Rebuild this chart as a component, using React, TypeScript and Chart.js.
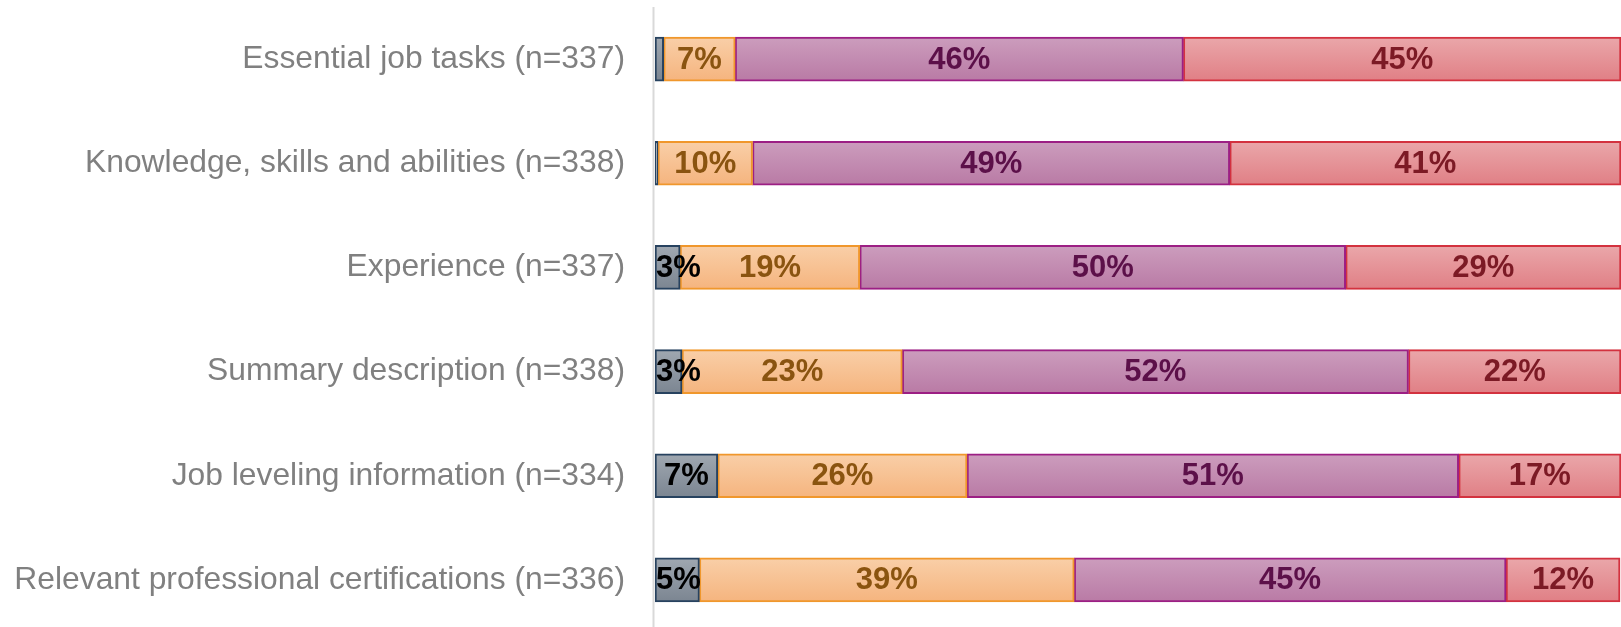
import React, { useEffect, useRef } from "react";
import { Chart, registerables } from "chart.js";

Chart.register(...registerables);

const categories = [
  "Essential job tasks (n=337)",
  "Knowledge, skills and abilities (n=338)",
  "Experience (n=337)",
  "Summary description (n=338)",
  "Job leveling information (n=334)",
  "Relevant professional certifications (n=336)",
];

const seriesNames = ["Not important", "Somewhat important", "Important", "Very important"];
const grayValues = [0.9, 0.3, 2.6, 2.8, 6.5, 4.6];
const orangeValues = [7.4, 9.8, 18.6, 22.8, 25.8, 38.8];
const purpleValues = [46.4, 49.4, 50.3, 52.4, 50.9, 44.7];
const redValues = [45.3, 40.5, 28.5, 22.0, 16.8, 11.8];

const fillTop = ["#a0a8b1", "#f9cfa8", "#cc9dbd", "#eaa7aa"];
const fillBottom = ["#7b8591", "#f5b47e", "#b97aa5", "#e07f85"];
const borderColors = ["#27425f", "#f0972c", "#9c1f84", "#d3323f"];
const labelColors = ["#000000", "#8a5410", "#5c1049", "#7c1a25"];

const FONT = "'Liberation Sans', Arial, Helvetica, sans-serif";
const BAR_THICKNESS = 44;

export default function App() {
  const ref = useRef<HTMLCanvasElement | null>(null);

  useEffect(() => {
    if (!ref.current) return;
    const seriesValues = [grayValues, orangeValues, purpleValues, redValues];

    const gradientFor = (i: number) => (ctx: any) => {
      const chart = ctx.chart;
      if (!chart.chartArea || ctx.dataIndex === undefined || !chart.scales.y) return fillBottom[i];
      const y = chart.scales.y.getPixelForValue(ctx.dataIndex);
      const g = chart.ctx.createLinearGradient(0, y - BAR_THICKNESS / 2, 0, y + BAR_THICKNESS / 2);
      g.addColorStop(0, fillTop[i]);
      g.addColorStop(1, fillBottom[i]);
      return g;
    };

    const axisLinePlugin = {
      id: "axisLine",
      beforeDatasetsDraw(chart: any) {
        const c = chart.ctx;
        const { left } = chart.chartArea;
        c.save();
        c.fillStyle = "#d9d9d9";
        c.fillRect(left - 2.5, 7, 2, chart.height);
        c.restore();
      },
    };

    const labelPlugin = {
      id: "segLabels",
      afterDatasetsDraw(chart: any) {
        const c = chart.ctx;
        const area = chart.chartArea;
        c.save();
        c.font = `bold 31px ${FONT}`;
        c.textBaseline = "middle";
        c.textAlign = "left";
        chart.data.datasets.forEach((ds: any, di: number) => {
          const meta = chart.getDatasetMeta(di);
          meta.data.forEach((el: any, idx: number) => {
            const v = ds.data[idx];
            if (v < 2) return;
            const text = Math.round(v) + "%";
            const x0 = Math.max(Math.min(el.base, el.x), area.left);
            const x1 = Math.min(Math.max(el.base, el.x), area.right);
            const w = c.measureText(text).width;
            let tx = (x0 + x1) / 2 - w / 2;
            if (tx < area.left + 1) tx = area.left + 1;
            c.fillStyle = labelColors[di];
            c.fillText(text, tx, el.y + 1);
          });
        });
        c.restore();
      },
    };

    const chart = new Chart(ref.current, {
      type: "bar",
      data: {
        labels: categories,
        datasets: seriesValues.map((vals, i) => ({
          label: seriesNames[i],
          data: vals,
          backgroundColor: gradientFor(i),
          borderColor: borderColors[i],
          borderWidth: 2,
          borderSkipped: false,
          barThickness: BAR_THICKNESS,
        })),
      },
      options: {
        indexAxis: "y",
        responsive: false,
        animation: false,
        devicePixelRatio: 1,
        layout: { padding: { top: 7, bottom: 8, left: 0, right: 0 } },
        plugins: {
          legend: { display: false },
          tooltip: { enabled: false },
        },
        scales: {
          x: {
            stacked: true,
            min: 0,
            max: 100,
            display: false,
          },
          y: {
            stacked: true,
            grid: { display: false, drawTicks: false },
            border: { display: false },
            afterFit(scale: any) {
              scale.width = 655;
              scale.paddingTop = 0;
              scale.paddingBottom = 0;
            },
            ticks: {
              padding: 30,
              color: "#808080",
              font: { family: FONT, size: 31.8 },
            },
          },
        },
      },
      plugins: [axisLinePlugin, labelPlugin],
    } as any);

    return () => chart.destroy();
  }, []);

  return (
    <div style={{ position: "absolute", left: 0, top: 0, width: 1621, height: 627, overflow: "hidden", background: "#fff" }}>
      <canvas ref={ref} width={1621} height={640} style={{ display: "block" }} />
    </div>
  );
}
